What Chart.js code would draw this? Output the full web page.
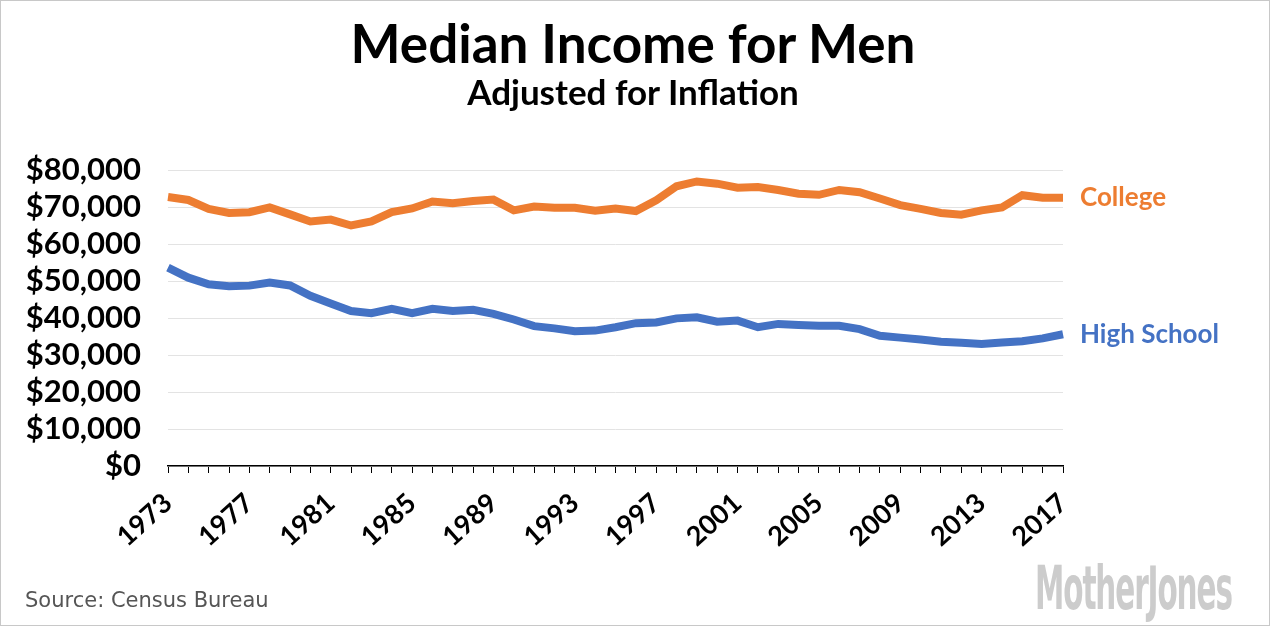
<!DOCTYPE html>
<html>
<head>
<meta charset="utf-8">
<script src="https://cdn.jsdelivr.net/npm/chart.js@4/dist/chart.umd.min.js"></script>
<style>
    html, body { margin: 0; padding: 0; background: #fff; }
    #wrap { position: relative; width: 1270px; height: 626px; overflow: hidden; font-family: Lato, "Noto Sans", sans-serif; }
    #frame { position: absolute; left: 0; top: 0; width: 1268px; height: 624px; border: 1px solid #c8c8c8; pointer-events: none; }
    #chart { position: absolute; left: 0; top: 0; }
    .title { position: absolute; left: 0; width: 1266px; text-align: center; font-weight: bold; color: #000; }
    #title { top: 12px; font-size: 53px; line-height: 62px; }
    #subtitle { top: 71px; font-size: 35px; line-height: 40px; }
    #source { position: absolute; left: 25px; top: 588px; font-family: "DejaVu Sans", sans-serif; font-size: 21px; color: #555; }
    #logo { position: absolute; left: 1035px; top: 558px; font-family: "Liberation Sans Narrow", "DejaVu Sans Condensed", sans-serif; font-weight: bold; font-size: 60px; line-height: 60px; color: #cccccc; letter-spacing: -2px; transform-origin: left top; white-space: nowrap; }
</style>
</head>
<body>
<div id="wrap">
    <canvas id="chart" width="1270" height="626"></canvas>
    <div class="title" id="title">Median Income for Men</div>
    <div class="title" id="subtitle">Adjusted for Inflation</div>
    <div id="source">Source: Census Bureau</div>
    <div id="logo">MotherJones</div>
    <div id="frame"></div>
</div>
<script>
// values, in dollars
const years = [1973, 1974, 1975, 1976, 1977, 1978, 1979, 1980, 1981, 1982, 1983, 1984, 1985, 1986, 1987,
    1988, 1989, 1990, 1991, 1992, 1993, 1994, 1995, 1996, 1997, 1998, 1999, 2000, 2001, 2002,
    2003, 2004, 2005, 2006, 2007, 2008, 2009, 2010, 2011, 2012, 2013, 2014, 2015, 2016, 2017];
const college = [72700, 71900, 69500, 68400, 68600, 69900, 68000, 66100, 66600, 65000, 66100, 68600, 69600, 71500, 71000,
    71600, 72000, 69100, 70100, 69800, 69800, 69000, 69600, 68900, 71800, 75600, 76900, 76300, 75200, 75400,
    74600, 73600, 73300, 74600, 74000, 72300, 70500, 69500, 68400, 67900, 69100, 69900, 73200, 72500, 72500];
const highSchool = [53600, 50900, 49100, 48600, 48750, 49600, 48800, 46000, 43900, 41900, 41300, 42500, 41300, 42500, 41900,
    42200, 41100, 39600, 37800, 37200, 36400, 36600, 37500, 38600, 38800, 39900, 40200, 39000, 39300, 37500,
    38400, 38100, 37900, 37900, 37000, 35200, 34700, 34200, 33600, 33300, 33000, 33400, 33700, 34500, 35600];
const xTickYears = [1973, 1977, 1981, 1985, 1989, 1993, 1997, 2001, 2005, 2009, 2013, 2017];
const yTicks = [0, 10000, 20000, 30000, 40000, 50000, 60000, 70000, 80000];

const seriesNames = ['College', 'High School'];
const seriesColors = ['#ed7d31', '#4472c4'];

// squeeze the logo text into its box
const logo = document.getElementById('logo');
logo.style.transform = 'scaleX(' + (197 / logo.offsetWidth) + ')';

// series name written just right of each line's last point
const endLabels = {
    id: 'endLabels',
    afterDatasetsDraw(chart) {
        const ctx = chart.ctx;
        ctx.save();
        ctx.font = 'bold 26px Lato';
        ctx.textBaseline = 'middle';
        ctx.textAlign = 'left';
        chart.data.datasets.forEach((ds, i) => {
            const meta = chart.getDatasetMeta(i);
            const last = meta.data[meta.data.length - 1];
            ctx.fillStyle = ds.borderColor;
            ctx.fillText(ds.label, chart.chartArea.right + 17, last.y);
        });
        ctx.restore();
    }
};

new Chart(document.getElementById('chart').getContext('2d'), {
    type: 'line',
    data: {
        labels: years,
        datasets: [
            { label: seriesNames[0], data: college, borderColor: seriesColors[0] },
            { label: seriesNames[1], data: highSchool, borderColor: seriesColors[1] }
        ]
    },
    options: {
        responsive: false,
        animation: false,
        layout: { padding: { top: 170, right: 207, left: 0, bottom: 0 } },
        elements: {
            line: { borderWidth: 8, tension: 0, fill: false },
            point: { radius: 0, hoverRadius: 0 }
        },
        plugins: {
            legend: { display: false },
            tooltip: { enabled: false }
        },
        scales: {
            x: {
                offset: false,
                afterFit: scale => { scale.height = 160; },
                border: { display: true, color: '#000', width: 1.5 },
                grid: { drawOnChartArea: false, drawTicks: true, tickLength: 7, color: '#000', lineWidth: 1 },
                ticks: {
                    autoSkip: false,
                    maxRotation: 42,
                    minRotation: 42,
                    padding: 14,
                    color: '#000',
                    font: { family: 'Lato', size: 27, weight: 'bold' },
                    callback: (v, i) => xTickYears.includes(years[i]) ? String(years[i]) : ''
                }
            },
            y: {
                min: 0,
                max: 80000,
                afterFit: scale => { scale.width = 168; },
                afterBuildTicks: scale => { scale.ticks = yTicks.map(v => ({ value: v })); },
                border: { display: false },
                grid: { color: '#e3e3e3', lineWidth: 1, drawTicks: false },
                ticks: {
                    autoSkip: false,
                    padding: 27,
                    color: '#000',
                    font: { family: 'Lato', size: 31, weight: 'bold' },
                    callback: v => '$' + v.toLocaleString('en-US')
                }
            }
        }
    },
    plugins: [endLabels]
});
</script>
</body>
</html>
